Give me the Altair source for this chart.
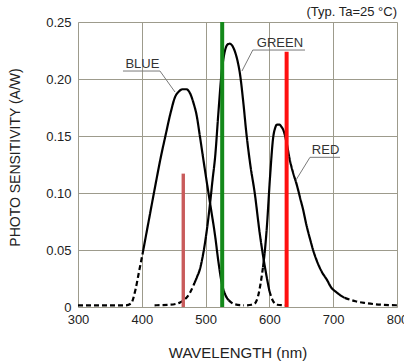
import altair as alt
import pandas as pd

# Photo sensitivity (A/W) against wavelength (nm) for the three photodiode channels.
# Each curve is stored as a dashed left tail, a solid body and a dashed right tail.
blue_tail_left_wl = [300, 375, 383, 390, 396, 401]
blue_tail_left_val = [0.0015, 0.0015, 0.003, 0.015, 0.032, 0.046]
blue_body_wl = [401, 410, 420, 430, 437, 445, 452, 458, 464, 470, 476, 481, 486, 491,
                499, 507, 515, 520, 525, 530, 536]
blue_body_val = [0.046, 0.073, 0.103, 0.132, 0.150, 0.170, 0.184, 0.189, 0.191, 0.191,
                 0.187, 0.179, 0.168, 0.150, 0.120, 0.091, 0.062, 0.040, 0.022, 0.012, 0.006]
blue_tail_right_wl = [536, 545, 560]
blue_tail_right_val = [0.006, 0.0025, 0.0015]

green_tail_left_wl = [420, 445, 460, 468, 475, 481]
green_tail_left_val = [0.0015, 0.002, 0.004, 0.007, 0.012, 0.019]
green_body_wl = [481, 487, 491, 495, 499, 503, 507, 511, 515, 520, 525, 530, 534, 538,
                 542, 546, 550, 554, 559, 564, 570, 577, 585, 593, 600]
green_body_val = [0.019, 0.027, 0.033, 0.043, 0.056, 0.072, 0.091, 0.112, 0.132, 0.170,
                  0.205, 0.224, 0.230, 0.231, 0.229, 0.224, 0.216, 0.204, 0.180, 0.152,
                  0.125, 0.100, 0.064, 0.035, 0.014]
green_tail_right_wl = [600, 605, 612, 625]
green_tail_right_val = [0.014, 0.006, 0.002, 0.0015]

red_tail_left_wl = [565, 572, 577, 582, 586, 590]
red_tail_left_val = [0.0015, 0.002, 0.003, 0.009, 0.020, 0.035]
red_body_wl = [590, 593, 596, 601, 606, 609, 612, 616, 619, 622, 627, 632, 637, 643,
               648, 653, 658, 664, 669, 674, 682, 690, 697, 705, 712, 718]
red_body_val = [0.035, 0.050, 0.070, 0.114, 0.149, 0.157, 0.160, 0.160, 0.158, 0.155,
                0.144, 0.129, 0.118, 0.107, 0.096, 0.085, 0.072, 0.059, 0.049, 0.041,
                0.031, 0.024, 0.017, 0.013, 0.010, 0.008]
red_tail_right_wl = [718, 735, 750, 775, 800]
red_tail_right_val = [0.008, 0.005, 0.0035, 0.002, 0.0015]

# LED emission peaks drawn as vertical bars
bar_wl = [465, 526, 627]
bar_val = [0.117, 0.25, 0.224]
bar_colors = ["#C95B5B", "#14891A", "#FF1010"]
bar_widths = [3.4, 4, 4]

# Curve labels with their underline + leader (underline start, underline end, point on curve)
label_text = ["BLUE", "GREEN", "RED"]
label_wl = [401, 616.5, 688]
label_val = [0.2135, 0.232, 0.1377]
leader_wl = [[370.5, 428.5, 452], [655.8, 574, 557], [710.7, 663.6, 641.7]]
leader_val = [[0.207, 0.207, 0.1886], [0.2254, 0.2254, 0.207], [0.1313, 0.1313, 0.1114]]

condition_note = "(Typ. Ta=25 °C)"

x_ticks = [300, 400, 500, 600, 700, 800]
y_ticks = [0, 0.05, 0.10, 0.15, 0.20, 0.25]

FONT = "Liberation Sans"

segments = [
    ("blue_l", "dashed", blue_tail_left_wl, blue_tail_left_val),
    ("blue_b", "solid", blue_body_wl, blue_body_val),
    ("blue_r", "dashed", blue_tail_right_wl, blue_tail_right_val),
    ("green_l", "dashed", green_tail_left_wl, green_tail_left_val),
    ("green_b", "solid", green_body_wl, green_body_val),
    ("green_r", "dashed", green_tail_right_wl, green_tail_right_val),
    ("red_l", "dashed", red_tail_left_wl, red_tail_left_val),
    ("red_b", "solid", red_body_wl, red_body_val),
    ("red_r", "dashed", red_tail_right_wl, red_tail_right_val),
]
rows = []
for seg, style, wls, vals in segments:
    for w, v in zip(wls, vals):
        rows.append({"seg": seg, "style": style, "wl": w, "val": v})
curves_df = pd.DataFrame(rows)

bars_df = pd.DataFrame({"wl": bar_wl, "val": bar_val, "color": bar_colors, "sw": bar_widths})

labels_df = pd.DataFrame({"text": label_text, "wl": label_wl, "val": label_val})

lead_rows = []
for name, wls, vals in zip(label_text, leader_wl, leader_val):
    for i, (w, v) in enumerate(zip(wls, vals)):
        lead_rows.append({"name": name, "i": i, "wl": w, "val": v})
leaders_df = pd.DataFrame(lead_rows)

x_scale = alt.Scale(domain=[300, 800], nice=False, zero=False)
y_scale = alt.Scale(domain=[0, 0.25], nice=False)

x_axis = alt.Axis(
    values=x_ticks, title="WAVELENGTH (nm)", grid=True, ticks=False, domain=False,
    labelPadding=6, labelFontSize=13, labelFont=FONT, labelColor="#222",
    titleFont=FONT, titleFontSize=15, titleFontWeight="normal", titleColor="#222",
    titleY=45, titleBaseline="middle", gridColor="#9d9b8c", gridWidth=1,
    labelFlush=False,
)
y_axis = alt.Axis(
    values=y_ticks, title="PHOTO SENSITIVITY (A/W)", grid=True, ticks=False, domain=False,
    labelExpr="datum.value == 0 ? '0' : format(datum.value, '.2f')",
    labelPadding=7, labelFontSize=13, labelFont=FONT, labelColor="#222",
    titleFont=FONT, titleFontSize=14, titleFontWeight="normal", titleColor="#222",
    titleAngle=270, titleX=-63, titleY=135, titleBaseline="middle", titleAlign="center",
    gridColor="#9d9b8c", gridWidth=1,
)

curves = alt.Chart(curves_df).mark_line(
    color="black", strokeWidth=2.2, interpolate="monotone", clip=True
).encode(
    x=alt.X("wl:Q", scale=x_scale, axis=x_axis),
    y=alt.Y("val:Q", scale=y_scale, axis=y_axis),
    detail="seg:N",
    strokeDash=alt.StrokeDash(
        "style:N",
        scale=alt.Scale(domain=["solid", "dashed"], range=[[1, 0], [5, 3]]),
        legend=None,
    ),
)

bars = alt.Chart(bars_df).mark_rule(clip=True).encode(
    x="wl:Q",
    y=alt.Y("val:Q"),
    y2=alt.datum(0),
    color=alt.Color("color:N", scale=None),
    strokeWidth=alt.StrokeWidth("sw:Q", scale=None),
)

leaders = alt.Chart(leaders_df).mark_line(color="#7a7a7a", strokeWidth=1).encode(
    x="wl:Q",
    y="val:Q",
    detail="name:N",
    order="i:Q",
)

labels = alt.Chart(labels_df).mark_text(
    font=FONT, fontSize=13, color="#333", align="center", baseline="middle"
).encode(
    x="wl:Q",
    y="val:Q",
    text="text:N",
)

# Measurement condition note above the top-right corner of the plot
note = alt.Chart(pd.DataFrame({"t": [condition_note]})).mark_text(
    font=FONT, fontSize=13, color="#222", align="right", baseline="middle"
).encode(
    x=alt.value(319),
    y=alt.value(-10),
    text="t:N",
)

chart = alt.layer(curves, leaders, bars, labels, note).properties(
    width=319,
    height=285,
    autosize=alt.AutoSizeParams(type="none"),
    padding={"left": 78, "top": 22, "right": 7, "bottom": 54},
).configure_view(
    fill="#FDFBE7", stroke="#333333", strokeWidth=2
).configure(background="white")

chart.save("out.html", embed_options={"renderer": "svg", "actions": False})
